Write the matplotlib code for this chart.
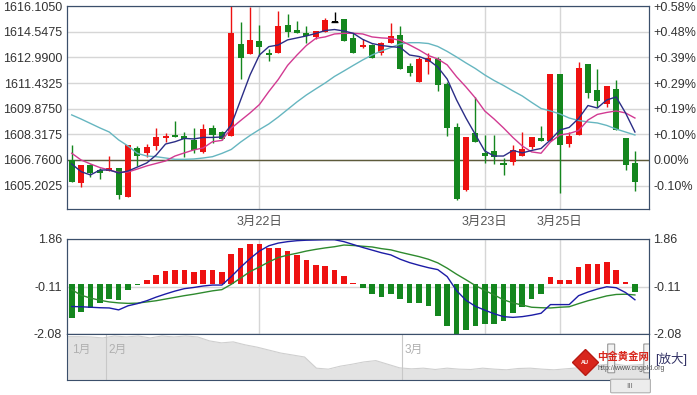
import matplotlib.pyplot as plt
import numpy as np
from matplotlib.lines import Line2D
from matplotlib.patches import FancyBboxPatch

plt.rcParams['font.family'] = ['Liberation Sans', 'Noto Sans CJK SC', 'DejaVu Sans']

# candles (one per bar, left to right)
opens = [1606.76, 1605.38, 1606.46, 1606.15, 1606.11, 1606.26, 1604.53, 1607.47, 1607.17, 1607.61,
         1608.12, 1608.26, 1608.22, 1607.98, 1607.26, 1608.69, 1608.48, 1608.22, 1613.81, 1613.19,
         1613.99, 1613.28, 1613.25, 1614.97, 1614.66, 1614.50, 1614.26, 1614.56, 1615.17, 1615.33,
         1614.20, 1613.65, 1613.75, 1613.25, 1613.86, 1614.36, 1612.47, 1611.50, 1612.74, 1612.88,
         1611.38, 1608.79, 1604.94, 1608.42, 1607.20, 1607.33, 1606.60, 1606.66, 1607.00, 1607.57,
         1608.12, 1607.93, 1611.99, 1607.71, 1608.28, 1612.58, 1611.02, 1610.15, 1611.06, 1608.08,
         1606.60]
closes = [1605.44, 1606.46, 1605.99, 1605.99, 1606.26, 1604.63, 1607.67, 1607.02, 1607.57, 1608.14,
          1608.24, 1608.14, 1608.06, 1607.37, 1608.63, 1608.28, 1608.02, 1614.46, 1612.98, 1614.06,
          1613.65, 1613.12, 1614.91, 1614.52, 1614.46, 1614.30, 1614.58, 1615.27, 1615.17, 1614.01,
          1613.28, 1613.75, 1612.98, 1613.86, 1614.30, 1612.27, 1612.07, 1612.88, 1612.94, 1611.32,
          1608.69, 1604.37, 1608.18, 1607.87, 1607.00, 1606.96, 1606.44, 1607.35, 1607.42, 1608.16,
          1607.93, 1611.99, 1607.65, 1608.22, 1612.33, 1610.81, 1610.36, 1611.24, 1608.56, 1606.46,
          1605.44]
highs = [1607.67, 1606.46, 1606.50, 1606.26, 1607.02, 1606.26, 1607.67, 1607.61, 1607.73, 1608.72,
         1608.42, 1609.13, 1608.48, 1608.72, 1608.93, 1608.89, 1608.55, 1616.12, 1615.13, 1616.04,
         1614.97, 1613.49, 1615.82, 1615.64, 1615.23, 1614.92, 1614.58, 1615.37, 1615.78, 1615.33,
         1614.50, 1614.10, 1613.80, 1613.92, 1615.07, 1614.91, 1612.64, 1613.04, 1613.25, 1613.00,
         1611.50, 1609.03, 1608.18, 1610.61, 1608.28, 1608.28, 1606.86, 1607.67, 1608.48, 1608.18,
         1608.83, 1611.99, 1611.99, 1608.48, 1612.74, 1612.60, 1612.27, 1611.28, 1611.62, 1608.08,
         1607.33]
lows = [1605.40, 1605.14, 1605.75, 1605.59, 1606.11, 1604.37, 1604.50, 1606.41, 1606.96, 1607.37,
        1607.87, 1608.14, 1606.92, 1607.17, 1607.17, 1607.78, 1607.98, 1608.22, 1611.68, 1613.19,
        1613.08, 1612.78, 1613.25, 1614.22, 1614.46, 1613.86, 1614.10, 1614.56, 1615.17, 1614.01,
        1613.28, 1613.59, 1612.98, 1613.14, 1613.86, 1612.27, 1611.87, 1611.50, 1611.99, 1610.97,
        1608.22, 1604.30, 1604.90, 1607.87, 1606.56, 1606.52, 1605.85, 1606.46, 1607.00, 1607.42,
        1607.93, 1607.93, 1604.74, 1607.57, 1608.28, 1610.51, 1609.98, 1609.96, 1608.56, 1606.15,
        1604.89]

ma5 = [1606.52, 1606.05, 1605.85, 1606.15, 1606.15, 1605.97, 1606.09, 1606.33, 1606.58, 1607.06,
       1607.73, 1607.87, 1608.07, 1608.04, 1608.13, 1608.13, 1608.16, 1608.89, 1610.41, 1611.93,
       1613.14, 1613.65, 1613.75, 1614.06, 1614.18, 1614.30, 1614.45, 1614.63, 1614.69, 1614.60,
       1614.46, 1614.09, 1613.84, 1613.72, 1613.65, 1613.60, 1613.14, 1613.05, 1612.84, 1612.41,
       1611.68, 1610.41, 1609.31, 1608.31, 1607.31, 1607.00, 1607.00, 1607.34, 1607.19, 1607.34,
       1607.46, 1607.98, 1608.58, 1608.74, 1609.28, 1610.07, 1609.92, 1610.41, 1610.59, 1609.62,
       1608.46]
ma10 = [1607.17, 1606.76, 1606.52, 1606.30, 1606.15, 1606.00, 1606.03, 1606.21, 1606.40, 1606.55,
        1606.70, 1607.00, 1607.19, 1607.37, 1607.49, 1607.87, 1607.95, 1608.69, 1609.16, 1609.62,
        1610.13, 1610.92, 1611.65, 1612.51, 1613.14, 1613.72, 1614.15, 1614.24, 1614.42, 1614.46,
        1614.46, 1614.42, 1614.24, 1614.18, 1614.15, 1614.03, 1613.75, 1613.45, 1613.11, 1612.90,
        1612.54, 1611.82, 1611.20, 1610.53, 1609.74, 1609.25, 1608.71, 1608.13, 1607.61, 1607.25,
        1607.17, 1607.85, 1608.28, 1608.37, 1608.55, 1609.19, 1609.53, 1609.65, 1609.74, 1609.62,
        1609.31]
ma20 = [1609.50, 1609.25, 1608.98, 1608.71, 1608.46, 1607.98, 1607.61, 1607.16, 1607.00, 1606.96,
        1606.88, 1606.80, 1606.80, 1606.82, 1606.88, 1606.96, 1607.16, 1607.40, 1607.85, 1608.25,
        1608.61, 1608.95, 1609.37, 1609.83, 1610.29, 1610.71, 1611.08, 1611.44, 1611.84, 1612.17,
        1612.51, 1612.84, 1613.14, 1613.39, 1613.60, 1613.81, 1613.89, 1613.89, 1613.84, 1613.66,
        1613.36, 1613.02, 1612.66, 1612.32, 1611.93, 1611.59, 1611.29, 1610.96, 1610.65, 1610.26,
        1609.89, 1609.74, 1609.56, 1609.31, 1609.16, 1609.07, 1609.01, 1608.86, 1608.64, 1608.46,
        1608.28]

macd_hist = [-1.41, -1.15, -1.00, -0.81, -0.63, -0.66, -0.24, -0.03, 0.16, 0.37,
             0.52, 0.59, 0.59, 0.48, 0.58, 0.56, 0.48, 1.24, 1.47, 1.67,
             1.67, 1.47, 1.50, 1.38, 1.20, 0.99, 0.80, 0.73, 0.59, 0.31,
             0.02, -0.17, -0.42, -0.53, -0.42, -0.63, -0.81, -0.81, -0.93, -1.32,
             -1.73, -2.08, -1.90, -1.76, -1.66, -1.66, -1.53, -1.21, -0.97, -0.63,
             -0.42, 0.27, 0.16, 0.17, 0.71, 0.83, 0.83, 0.91, 0.59, 0.09,
             -0.35]
dif = [-0.94, -0.95, -0.97, -0.99, -1.00, -1.08, -0.91, -0.82, -0.70, -0.55,
       -0.42, -0.30, -0.20, -0.15, -0.09, -0.05, -0.05, 0.30, 0.69, 1.05,
       1.36, 1.58, 1.69, 1.75, 1.79, 1.81, 1.82, 1.83, 1.83, 1.75,
       1.63, 1.51, 1.40, 1.29, 1.20, 1.02, 0.88, 0.77, 0.67, 0.59,
       0.30, -0.28, -0.68, -0.93, -1.09, -1.24, -1.36, -1.39, -1.36, -1.30,
       -1.22, -0.86, -0.86, -0.86, -0.49, -0.34, -0.22, -0.12, -0.16, -0.36,
       -0.66]
dea = [-0.24, -0.47, -0.59, -0.68, -0.75, -0.79, -0.81, -0.80, -0.75, -0.70,
       -0.63, -0.56, -0.49, -0.43, -0.36, -0.29, -0.24, -0.02, 0.24, 0.51,
       0.70, 0.91, 1.09, 1.19, 1.27, 1.36, 1.43, 1.49, 1.54, 1.61,
       1.59, 1.56, 1.53, 1.46, 1.41, 1.31, 1.22, 1.13, 1.02, 0.87,
       0.65, 0.40, 0.17, -0.07, -0.27, -0.46, -0.66, -0.79, -0.88, -0.97,
       -0.99, -1.00, -0.97, -0.95, -0.82, -0.70, -0.60, -0.50, -0.44, -0.43,
       -0.46]

# navigator overview (Jan - Mar)
nav_vals = [1692, 1692, 1691, 1688, 1694, 1691, 1694, 1688, 1694, 1691,
            1694, 1691, 1679, 1673, 1676, 1667, 1660, 1651, 1642, 1636,
            1630, 1596, 1593, 1602, 1608, 1615, 1619, 1608, 1597, 1594,
            1596, 1592, 1596, 1593, 1592, 1596, 1593, 1591, 1595, 1596,
            1593, 1591, 1594, 1597, 1602, 1606, 1609, 1604, 1606, 1609]
nav_months = ['1月', '2月', '3月']
nav_month_pos = [0.2, 3.3, 28.2]

base = 1606.76
price_ticks = [1605.2025, 1606.76, 1608.3175, 1609.875, 1611.4325, 1612.99, 1614.5475, 1616.105]
date_pos = [20, 44, 52]
date_labels = ['3月22日', '3月23日', '3月25日']
macd_ticks = [-2.08, -0.11, 1.86]

RED = '#ee1111'
GREEN = '#14861e'
BORDER = '#3b4f6b'
GRID = '#d6d6d6'
TXT = '#333333'

W, H = 697, 395
fig = plt.figure(figsize=(W / 100, H / 100), dpi=100)


def box(l, t, r, b):
    return [l / W, 1 - b / H, (r - l) / W, (b - t) / H]


def pct(p):
    v = (p / base - 1) * 100
    if abs(v) < 0.005:
        return '0.00%'
    return f'{v:+.2f}%'


o, c = np.array(opens), np.array(closes)
h, l = np.array(highs), np.array(lows)
idx = np.arange(len(o))
cols = np.where(c > o, RED, np.where(c < o, GREEN, 'black'))

# ---- main candle chart
ax = fig.add_axes(box(67, 6, 649, 209))
ax.vlines(idx, l, h, colors=cols, lw=1, zorder=3)
ax.bar(idx, np.maximum(np.abs(c - o), 0.02), bottom=np.minimum(o, c), width=0.64,
       color=cols, zorder=3)
flat = c == o
ax.hlines(c[flat], idx[flat] - 0.35, idx[flat] + 0.35, color='black', lw=1, zorder=4)
ax.plot(idx, ma20, color='#66b6c0', lw=1, zorder=4)
ax.plot(idx, ma10, color='#d23a92', lw=1, zorder=4)
ax.plot(idx, ma5, color='#2b2d86', lw=1, zorder=4)
ax.axhline(base, color='#5d5a3a', lw=1, zorder=2)
ax.set_xlim(-0.5, 61.5)
ax.set_ylim(1603.78, 1616.12)
ax.set_yticks(price_ticks)
ax.set_yticklabels([f'{p:.4f}' for p in price_ticks])
ax.set_xticks(date_pos)
ax.set_xticklabels(date_labels, color='#555555', fontsize=8.5)
ax.grid(color=GRID, lw=1, zorder=0)
ax.tick_params(axis='both', length=0, labelsize=9, colors=TXT)
ax.tick_params(axis='x', pad=5, colors='#555555')
ax2 = ax.twinx()
ax2.set_ylim(ax.get_ylim())
ax2.set_yticks(price_ticks)
ax2.set_yticklabels([pct(p) for p in price_ticks])
ax2.tick_params(length=0, labelsize=9, colors=TXT, pad=3)
for a in (ax, ax2):
    for s in a.spines.values():
        s.set_color(BORDER)

# ---- MACD panel
am = fig.add_axes(box(67, 239, 649, 334))
hist = np.array(macd_hist)
am.bar(idx, hist, width=0.6, color=np.where(hist >= 0, RED, GREEN), zorder=3)
am.plot(idx, dea, color='#2e8a2e', lw=1, zorder=4)
am.plot(idx, dif, color='#1c1ca6', lw=1, zorder=4)
am.set_xlim(-0.5, 61.5)
am.set_ylim(-2.08, 1.86)
am.set_yticks(macd_ticks)
am.set_yticklabels([f'{v:.2f}' for v in macd_ticks])
am.set_xticks(date_pos)
am.set_xticklabels([])
am.grid(color=GRID, lw=1, zorder=0)
am.tick_params(length=0, labelsize=9, colors=TXT)
am2 = am.twinx()
am2.set_ylim(am.get_ylim())
am2.set_yticks(macd_ticks)
am2.set_yticklabels([f'{v:.2f}' for v in macd_ticks])
am2.tick_params(length=0, labelsize=9, colors=TXT, pad=3)
for a in (am, am2):
    for s in a.spines.values():
        s.set_color(BORDER)

# ---- navigator
an = fig.add_axes(box(67, 334, 649, 380))
nx = np.arange(len(nav_vals))
an.fill_between(nx, nav_vals, 1560, color='#e3e3e3', lw=0)
an.plot(nx, nav_vals, color='#cfcfcf', lw=0.8)
an.set_xlim(0, len(nav_vals) - 1)
an.set_ylim(1560, 1700)
for name, p in zip(nav_months, nav_month_pos):
    if p > 1:
        an.axvline(p, color='#c8c8c8', lw=0.8)
    an.text(p + 0.2, 1652, name, color='#b0b0b0', fontsize=8.5, va='center')
an.set_xticks([])
an.set_yticks([])
for s in an.spines.values():
    s.set_color(BORDER)
for x0 in (0.932, 0.994):
    an.add_patch(FancyBboxPatch((x0, 0.16), 0.006, 0.62, boxstyle='round,pad=0.003',
                                transform=an.transAxes, fc='#f2f2f2', ec='#9a9a9a', lw=0.8,
                                zorder=5))

# scroll bar
fig.patches.append(FancyBboxPatch((612 / W, 3 / H), 37 / W, 12 / H, boxstyle='round,pad=0.002',
                                  transform=fig.transFigure, fc='#ececec', ec='#b0b0b0', lw=0.8))
fig.text(630 / W, 9 / H, 'III', color='#777777', fontsize=6, ha='center', va='center')

# watermark logo
fig.add_artist(Line2D([585 / W], [1 - 362 / H], transform=fig.transFigure, marker='D',
                      markersize=13, color='#d8261c', markeredgecolor='#b81a12', ls='none'))
fig.text(585 / W, 1 - 363 / H, 'AU', color='white', fontsize=4, ha='center', va='center',
         weight='bold')
fig.text(597 / W, 1 - 357 / H, '中金黄金网', color='#d8261c', fontsize=7.5, va='center',
         weight='bold')
fig.text(597 / W, 1 - 369 / H, 'http://www.cngold.org', color='#555555', fontsize=5, va='center')
fig.text(655 / W, 1 - 359 / H, '[放大]', color='#333366', fontsize=9, va='center')

fig.savefig('out.png', dpi=100, facecolor='white')
